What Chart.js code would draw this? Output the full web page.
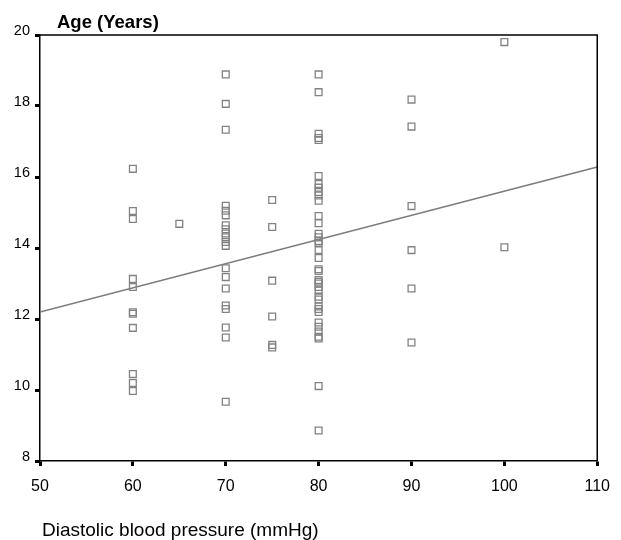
<!DOCTYPE html>
<html>
<head>
<meta charset="utf-8">
<script src="https://cdn.jsdelivr.net/npm/chart.js@4"></script>
<style>
  html, body { margin: 0; padding: 0; background: #fff; }
  #wrap { position: relative; width: 621px; height: 540px; }
</style>
</head>
<body>
<div id="wrap"><canvas id="chart" width="621" height="540"></canvas></div>
<script>
var age60 = [16.23, 15.04, 14.82, 13.13, 12.90, 12.19, 12.15, 11.75, 10.45, 10.20, 9.97];
var age65 = [14.68];
var age70 = [18.89, 18.06, 17.33, 15.19, 15.05, 14.92, 14.64, 14.53, 14.41, 14.30, 14.17, 14.06,
             13.43, 13.18, 12.86, 12.38, 12.28, 11.76, 11.48, 9.67];
var age75 = [15.35, 14.59, 13.08, 12.07, 11.27, 11.20];
var age80 = [18.89, 18.39, 17.22, 17.10, 17.04, 16.03, 15.80, 15.70, 15.58, 15.48, 15.33, 14.90,
             14.70, 14.40, 14.30, 14.20, 14.15, 13.94, 13.72, 13.40, 13.35, 13.10, 13.05, 13.00,
             12.90, 12.80, 12.63, 12.55, 12.35, 12.28, 12.20, 11.90, 11.78, 11.65, 11.50, 11.45,
             10.11, 8.86];
var age90 = [18.18, 17.42, 15.18, 13.94, 12.86, 11.34];
var age100 = [19.80, 14.02];

var bpLevels = [60, 65, 70, 75, 80, 90, 100];
var agesByLevel = [age60, age65, age70, age75, age80, age90, age100];

// fit line end points
var fitX = [50, 110];
var fitY = [12.2, 16.28];

var xTicks = [50, 60, 70, 80, 90, 100, 110];
var yTicks = [8, 10, 12, 14, 16, 18, 20];

var points = [];
bpLevels.forEach(function(bp, i) {
  agesByLevel[i].forEach(function(a) { points.push({ x: bp, y: a }); });
});
var fit = fitX.map(function(v, i) { return { x: v, y: fitY[i] }; });

var frame = {
  id: 'frame',
  afterDraw: function(chart) {
    var c = chart.ctx, a = chart.chartArea;
    c.save();
    c.strokeStyle = '#000';
    c.lineWidth = 1.5;
    c.beginPath();
    c.moveTo(a.left, a.top);
    c.lineTo(a.right, a.top);
    c.lineTo(a.right, a.bottom);
    c.stroke();
    c.fillStyle = '#000';
    c.textBaseline = 'alphabetic';
    c.font = 'bold 18.5px "Liberation Sans", Arial, sans-serif';
    c.fillText('Age (Years)', 57, 28);
    c.font = '19px "Liberation Sans", Arial, sans-serif';
    c.fillText('Diastolic blood pressure (mmHg)', 42, 536);
    c.restore();
  }
};

new Chart(document.getElementById('chart'), {
  type: 'scatter',
  data: {
    datasets: [
      {
        data: points,
        pointStyle: 'rect',
        pointRadius: 4.8,
        pointBorderWidth: 1.3,
        pointBorderColor: '#828282',
        pointBackgroundColor: 'rgba(255,255,255,0)',
        order: 1
      },
      {
        type: 'line',
        data: fit,
        borderColor: '#7c7c7c',
        borderWidth: 1.5,
        pointRadius: 0,
        fill: false,
        order: 2
      }
    ]
  },
  options: {
    responsive: false,
    animation: false,
    layout: { padding: { top: 35, right: 23, left: 0, bottom: 0 } },
    plugins: {
      legend: { display: false },
      tooltip: { enabled: false }
    },
    scales: {
      x: {
        type: 'linear',
        min: 50,
        max: 110,
        afterBuildTicks: function(s) { s.ticks = xTicks.map(function(v) { return { value: v }; }); },
        afterFit: function(s) { s.height = 79; },
        grid: { drawOnChartArea: false, tickLength: 5, tickWidth: 3, tickColor: '#000' },
        border: { color: '#000', width: 1.5 },
        ticks: {
          padding: 11,
          color: '#000',
          font: { family: '"Liberation Sans", Arial, sans-serif', size: 16 },
          maxRotation: 0
        }
      },
      y: {
        min: 8,
        max: 20,
        afterBuildTicks: function(s) { s.ticks = yTicks.map(function(v) { return { value: v }; }); },
        afterFit: function(s) { s.width = 40; },
        grid: { drawOnChartArea: false, tickLength: 5, tickWidth: 3, tickColor: '#000' },
        border: { color: '#000', width: 1.5 },
        ticks: {
          padding: 5,
          labelOffset: -4,
          color: '#000',
          font: { family: '"Liberation Sans", Arial, sans-serif', size: 14.5 }
        }
      }
    }
  },
  plugins: [frame]
});
</script>
</body>
</html>
